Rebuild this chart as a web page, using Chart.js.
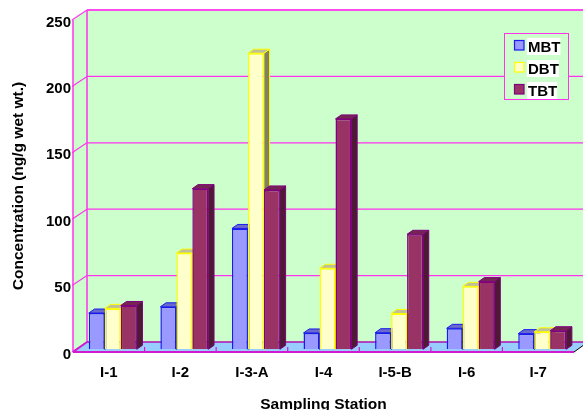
<!DOCTYPE html>
<html><head><meta charset="utf-8">
<style>html,body{margin:0;padding:0;background:#fff}canvas{display:block}</style>
<script src="https://cdn.jsdelivr.net/npm/chart.js@4"></script>
</head><body><canvas id="c" width="583" height="410"></canvas>
<script>
const stations = ['I-1','I-2','I-3-A','I-4','I-5-B','I-6','I-7'];
const MBT = [27.3,32,91,12.3,12.5,15.8,11.8];
const DBT = [30.8,72.5,223,61,27,47.4,13.2];
const TBT = [33,121,120,173.5,86.6,51,14];
const yTicks = [0,50,100,150,200,250];

const FONT = 'bold 15px "Liberation Sans", Arial, sans-serif';
const WALL = {dx:14, dy:-10};
const BAR_SHIFT = {dx:4, dy:-2.7};
const BAR_DEPTH = {dx:5.7, dy:-4};
const MAGENTA = '#ff33ee';
const faces = {
  MBT:{side:'#4d4d80', top:'#6a6acc', edge:'#1a1aee'},
  DBT:{side:'#808066', top:'#bfbf99', edge:'#ffff00'},
  TBT:{side:'#4d1933', top:'#732650', edge:'#800080'}
};
function line(ctx,x1,y1,x2,y2){ctx.beginPath();ctx.moveTo(x1,y1);ctx.lineTo(x2,y2);ctx.stroke();}
function poly(ctx,pts,fill,stroke){ctx.beginPath();pts.forEach((p,i)=>i?ctx.lineTo(p[0],p[1]):ctx.moveTo(p[0],p[1]));ctx.closePath();
  ctx.fillStyle=fill;ctx.fill();if(stroke){ctx.strokeStyle=stroke;ctx.lineWidth=1;ctx.stroke();}}

const threeD = {
  id:'threeD',
  beforeDatasetsDraw(chart){
    const {ctx,chartArea:a,scales:{x,y}}=chart, W=chart.width;
    const L=a.left,R=a.right,T=a.top,B=a.bottom,dx=WALL.dx,dy=WALL.dy;
    ctx.save();
    poly(ctx,[[L,T],[L+dx,T+dy],[L+dx,B+dy],[L,B]],'#ccffcc');
    ctx.fillStyle='#ccffcc';ctx.fillRect(L+dx,T+dy,W-L-dx,B-T);
    poly(ctx,[[L,B],[L+dx,B+dy],[R+dx,B+dy],[R,B]],'#99ccff');
    ctx.strokeStyle=MAGENTA;ctx.lineWidth=1.2;
    yTicks.forEach(v=>{const p=y.getPixelForValue(v);
      line(ctx,L-1,p,L+dx,p+dy);
      if(v>0)line(ctx,L+dx,p+dy,W,p+dy);
    });
    ctx.lineWidth=1.5;
    line(ctx,L+dx,T+dy,L+dx,B+dy);
    line(ctx,L,T,L,B);
    line(ctx,L+dx,T+dy,W,T+dy);
    ctx.strokeStyle='#b010b0';ctx.lineWidth=1.5;
    line(ctx,L+dx,B+dy,W,B+dy);
    ctx.strokeStyle='#d01ad0';ctx.lineWidth=2;
    line(ctx,L,B,R,B);
    line(ctx,L,B,L+dx,B+dy);
    ctx.lineWidth=1.2;
    for(let i=1;i<stations.length;i++){
      const p=(x.getPixelForValue(i-1)+x.getPixelForValue(i))/2;
      line(ctx,p,B,p,B-5);
    }
    ctx.strokeStyle='#000';ctx.lineWidth=1;
    line(ctx,R,B,R+dx,B+dy);
    // legend
    const lx=504,ly=33,lw=64,lh=66;
    ctx.fillStyle='#ccffcc';ctx.fillRect(lx,ly,lw,lh);
    ctx.strokeStyle=MAGENTA;ctx.lineWidth=1;ctx.strokeRect(lx+.5,ly+.5,lw,lh);
    ctx.font=FONT;ctx.textBaseline='middle';ctx.textAlign='left';
    chart.data.datasets.forEach((ds,i)=>{
      const row=ly+i*22;
      const tw=ctx.measureText(ds.label).width;
      ctx.fillStyle='#fff';ctx.fillRect(lx+23,row+5,tw+1,17);
      ctx.fillStyle=ds.backgroundColor;ctx.fillRect(lx+10.5,row+7.5,9.5,9.5);
      ctx.strokeStyle=ds.borderColor;ctx.lineWidth=1.2;ctx.strokeRect(lx+10.5,row+7.5,9.5,9.5);
      ctx.fillStyle='#000';ctx.fillText(ds.label,lx+24,row+15);
    });
    // depth faces of all bars, behind every front face
    ctx.translate(BAR_SHIFT.dx,BAR_SHIFT.dy);
    const base=y.getPixelForValue(0), ddx=BAR_DEPTH.dx, ddy=BAR_DEPTH.dy;
    stations.forEach((_,j)=>{
      chart.data.datasets.forEach((ds,i)=>{
        const f=faces[ds.label], el=chart.getDatasetMeta(i).data[j];
        const l=el.x-el.width/2,r=el.x+el.width/2,t=el.y;
        poly(ctx,[[r,t],[r+ddx,t+ddy],[r+ddx,base+ddy],[r,base]],f.side,f.edge);
        poly(ctx,[[l,t],[l+ddx,t+ddy],[r+ddx,t+ddy],[r,t]],f.top,f.edge);
      });
    });
    ctx.restore();
  },
  beforeDatasetDraw(chart){
    chart.ctx.save();
    chart.ctx.translate(BAR_SHIFT.dx,BAR_SHIFT.dy);
  },
  afterDatasetDraw(chart){chart.ctx.restore();}
};

const tickFont={family:'"Liberation Sans"',size:15,weight:'bold'};
const titleFont={family:'"Liberation Sans"',size:15.5,weight:'bold'};
new Chart(document.getElementById('c'),{
  type:'bar',
  data:{labels:stations,datasets:[
    {label:'MBT',data:MBT,backgroundColor:'#9999ff',borderColor:'#1a1aee',borderWidth:1.5},
    {label:'DBT',data:DBT,backgroundColor:'#ffffcc',borderColor:'#ffff00',borderWidth:1.5},
    {label:'TBT',data:TBT,backgroundColor:'#993366',borderColor:'#800080',borderWidth:1.5}
  ]},
  plugins:[threeD],
  options:{
    responsive:false,animation:false,
    layout:{padding:{top:20,right:9,left:0,bottom:0}},
    categoryPercentage:0.67,barPercentage:1,
    plugins:{legend:{display:false},tooltip:{enabled:false}},
    scales:{
      x:{
        grid:{display:false,drawTicks:false},border:{display:false},
        ticks:{color:'#000',font:tickFont,padding:12,maxRotation:0},
        title:{display:true,text:'Sampling Station',color:'#000',font:titleFont,padding:{top:0,bottom:-4}},
        afterFit(s){s.height=58;}
      },
      y:{
        min:0,max:250,
        afterBuildTicks(s){s.ticks=yTicks.map(v=>({value:v}));},
        grid:{display:false,drawTicks:false},border:{display:false},
        ticks:{color:'#000',font:tickFont,padding:2,labelOffset:2.5},
        title:{display:true,text:'Concentration (ng/g wet wt.)',color:'#000',font:titleFont,padding:{top:9,bottom:0}},
        afterFit(s){s.width=73;}
      }
    }
  }
});
</script></body></html>
